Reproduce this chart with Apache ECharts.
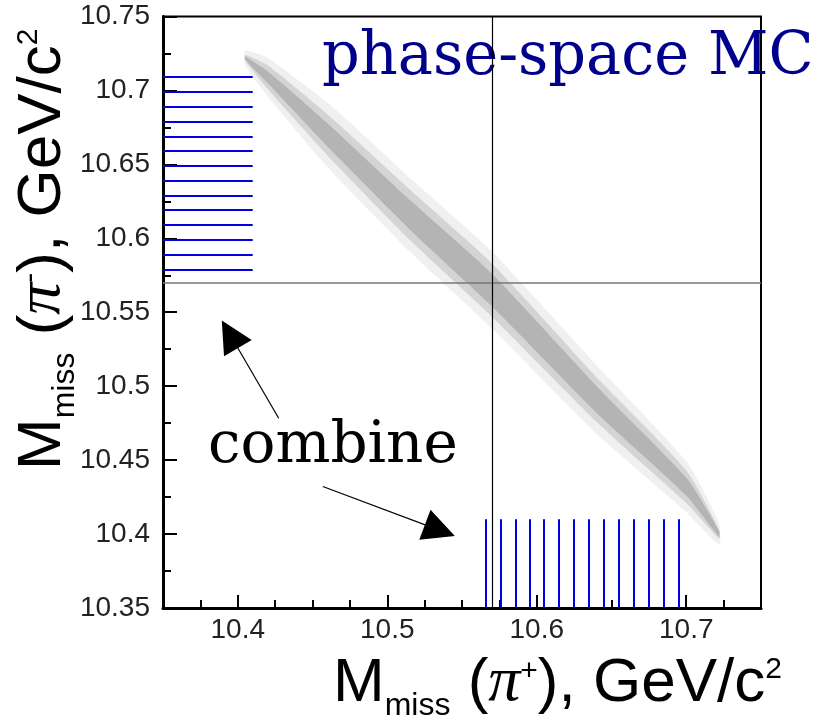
<!DOCTYPE html>
<html>
<head>
<meta charset="utf-8">
<script src="https://cdn.jsdelivr.net/npm/echarts@6/dist/echarts.min.js"></script>
<style>
  html, body { margin: 0; padding: 0; background: #fff; }
  #chart { width: 820px; height: 723px; }
</style>
</head>
<body>
<div id="chart"></div>
<script>
// axis ranges
const X_MIN = 10.35, X_MAX = 10.75;
const Y_MIN = 10.35, Y_MAX = 10.75;
const xTickLabels = [10.4, 10.5, 10.6, 10.7];

// crosshair
const crossX = 10.57;
const crossY = 10.57;

// blue slices: horizontal lines on the left, vertical lines at the bottom
const hLineY = [10.709, 10.699, 10.689, 10.679, 10.669, 10.659, 10.649, 10.639, 10.629, 10.619, 10.609, 10.599, 10.589, 10.579];
const hLineXEnd = 10.41;
const vLineX = [10.566, 10.576, 10.586, 10.595, 10.605, 10.615, 10.625, 10.635, 10.645, 10.655, 10.665, 10.675, 10.685, 10.695];
const vLineYEnd = 10.41;

// phase-space MC band: centre line and half widths (outer halo, middle, dense core)
const bandX = [10.405, 10.420, 10.462, 10.515, 10.570, 10.642, 10.700, 10.722];
const bandY = [10.722, 10.709, 10.668, 10.616, 10.565, 10.489, 10.432, 10.400];
const bandHalo = [0.005, 0.013, 0.022, 0.025, 0.026, 0.023, 0.017, 0.007];
const bandMid  = [0.002, 0.008, 0.014, 0.017, 0.018, 0.015, 0.011, 0.003];
const bandCore = [0.001, 0.004, 0.008, 0.010, 0.011, 0.009, 0.006, 0.002];

// "combine" arrows (tail -> head centre)
const arrowFrom = [[10.4274, 10.4783], [10.4569, 10.4322]];
const arrowTo   = [[10.3947, 10.5351], [10.5352, 10.4025]];

const SANS = "'Liberation Sans', Arial, sans-serif";
const SERIF = "'DejaVu Serif', serif";

const chart = echarts.init(document.getElementById('chart'));

// measure text so sub/superscripts can be laid out piece by piece
const measureCtx = document.createElement('canvas').getContext('2d');
function fontOf(p) {
    return (p.italic ? 'italic ' : '') + p.s + 'px ' + (p.f || SANS);
}
function titleGroup(pieces, x, y, rotation) {
    const children = [];
    let cx = 0;
    pieces.forEach(p => {
        const font = fontOf(p);
        measureCtx.font = font;
        children.push({
            type: 'text',
            x: cx,
            y: -0.35 * p.s + (p.dy || 0),
            style: { text: p.t, font: font, fill: '#000', align: 'left', verticalAlign: 'middle' }
        });
        cx += measureCtx.measureText(p.t).width;
    });
    return { type: 'group', x: x, y: y, rotation: rotation || 0, children: children };
}

function renderBand(params, api) {
    if (params.dataIndex !== 0) return null;
    const layer = (half, color) => {
        const pts = [];
        for (let i = 0; i < bandX.length; i++) pts.push(api.coord([bandX[i], bandY[i] + half[i]]));
        for (let i = bandX.length - 1; i >= 0; i--) pts.push(api.coord([bandX[i], bandY[i] - half[i]]));
        return { type: 'polygon', shape: { points: pts, smooth: 0.2 }, style: { fill: color } };
    };
    return {
        type: 'group',
        children: [
            layer(bandHalo, '#f0f0f0'),
            layer(bandMid, '#d4d4d4'),
            layer(bandCore, '#b4b4b4')
        ]
    };
}

const titleX = [
    { t: 'M', s: 62 },
    { t: 'miss', s: 32, dy: 11 },
    { t: ' (', s: 62 },
    { t: 'π', s: 64, f: "'Liberation Serif', serif", italic: true },
    { t: '+', s: 30, dy: -24 },
    { t: '), GeV/c', s: 62 },
    { t: '2', s: 30, dy: -26 }
];
const titleY = [
    { t: 'M', s: 62 },
    { t: 'miss', s: 32, dy: 11 },
    { t: ' (', s: 62 },
    { t: 'π', s: 64, f: "'Liberation Serif', serif", italic: true },
    { t: '-', s: 30, dy: -24 },
    { t: '), GeV/c', s: 62 },
    { t: '2', s: 30, dy: -26 }
];

const option = {
    animation: false,
    backgroundColor: '#fff',
    grid: {
        left: 163, right: 59, top: 16.5, bottom: 115,
        show: true, borderColor: '#000', borderWidth: 2, backgroundColor: 'transparent'
    },
    xAxis: [
        {
            type: 'value', min: X_MIN, max: X_MAX, interval: 0.05,
            axisLine: { show: true, onZero: false, lineStyle: { color: '#000', width: 3 } },
            axisTick: { show: true, inside: true, length: 13, customValues: xTickLabels, lineStyle: { color: '#000', width: 2 } },
            axisLabel: { customValues: xTickLabels, fontFamily: SANS, fontSize: 28, color: '#222', margin: 8 },
            splitLine: { show: false }
        },
        {
            // minor ticks every 0.025
            type: 'value', min: X_MIN, max: X_MAX, interval: 0.025, position: 'bottom',
            axisLine: { show: false },
            axisTick: { show: true, inside: true, length: 8, lineStyle: { color: '#000', width: 2 } },
            axisLabel: { show: false },
            splitLine: { show: false }
        }
    ],
    yAxis: {
        type: 'value', min: Y_MIN, max: Y_MAX, interval: 0.05,
        axisLine: { show: true, onZero: false, lineStyle: { color: '#000', width: 3 } },
        axisTick: { show: true, inside: true, length: 14, lineStyle: { color: '#000', width: 2 } },
        minorTick: { show: true, splitNumber: 2, length: 8, lineStyle: { color: '#000', width: 2 } },
        axisLabel: { fontFamily: SANS, fontSize: 28, color: '#222', margin: 13 },
        splitLine: { show: false }
    },
    series: [
        {
            type: 'custom',
            coordinateSystem: 'cartesian2d',
            renderItem: renderBand,
            data: bandX.map((x, i) => [x, bandY[i]]),
            encode: { x: 0, y: 1 },
            silent: true,
            z: 1
        },
        {
            type: 'lines',
            coordinateSystem: 'cartesian2d',
            polyline: false,
            silent: true,
            lineStyle: { color: '#0000e0', width: 2, opacity: 1 },
            data: hLineY.map(y => ({ coords: [[X_MIN, y], [hLineXEnd, y]] })),
            z: 3
        },
        {
            type: 'lines',
            coordinateSystem: 'cartesian2d',
            polyline: false,
            silent: true,
            lineStyle: { color: '#0000e0', width: 2, opacity: 1 },
            data: vLineX.map(x => ({ coords: [[x, Y_MIN], [x, vLineYEnd]] })),
            z: 3
        },
        {
            type: 'line',
            data: [],
            silent: true,
            markLine: {
                silent: true,
                symbol: 'none',
                label: { show: false },
                data: [
                    { yAxis: crossY, lineStyle: { color: '#777', width: 1.5, type: 'solid' } },
                    { xAxis: crossX, lineStyle: { color: '#000', width: 1.2, type: 'solid' } }
                ]
            },
            z: 4
        },
        {
            type: 'lines',
            coordinateSystem: 'cartesian2d',
            silent: true,
            symbol: ['none', 'triangle'],
            symbolSize: [22, 32],
            lineStyle: { color: '#000', width: 1.2, opacity: 1 },
            itemStyle: { color: '#000' },
            data: arrowFrom.map((p, i) => ({ coords: [p, arrowTo[i]] })),
            z: 5
        }
    ],
    graphic: [
        {
            type: 'text', x: 322, y: 79 - 0.35 * 59,
            style: { text: 'phase-space MC', font: '59px ' + SERIF, fill: '#00008c', verticalAlign: 'middle' }
        },
        {
            type: 'text', x: 208, y: 467 - 0.35 * 58,
            style: { text: 'combine', font: '58px ' + SERIF, fill: '#000', verticalAlign: 'middle' }
        },
        titleGroup(titleX, 333, 706, 0),
        titleGroup(titleY, 65, 470, Math.PI / 2)
    ]
};

chart.setOption(option);
</script>
</body>
</html>
